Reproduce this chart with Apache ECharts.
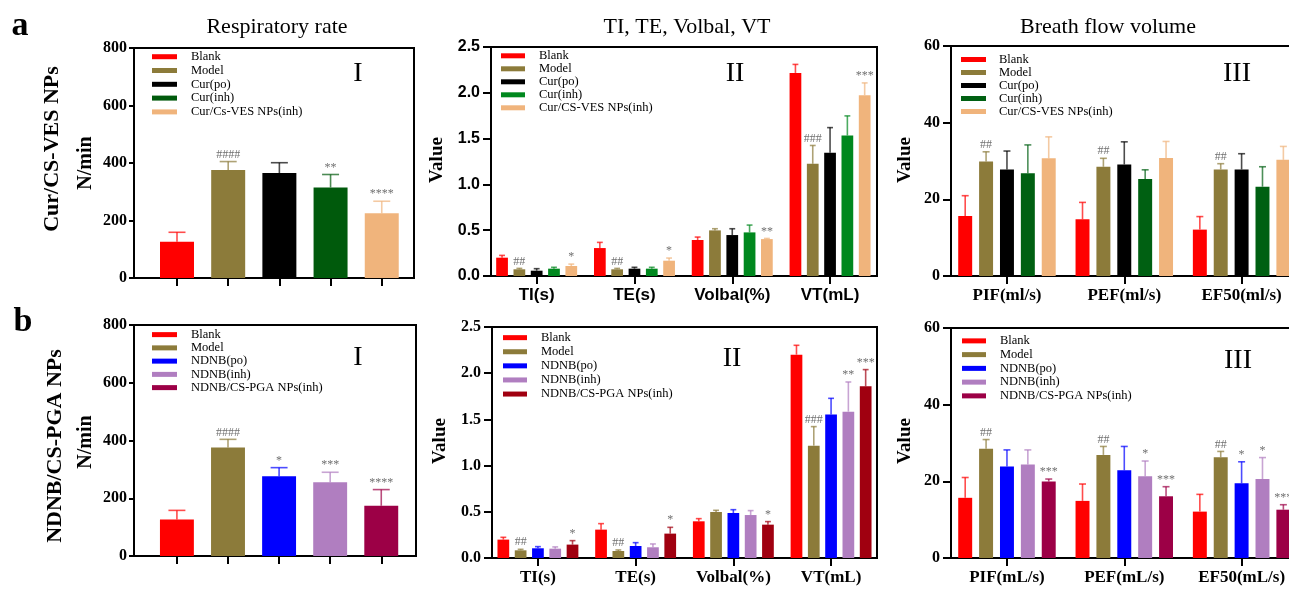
<!DOCTYPE html>
<html><head><meta charset="utf-8">
<script src="https://cdn.jsdelivr.net/npm/echarts@6/dist/echarts.min.js"></script>
<style>html,body{margin:0;padding:0;background:#fff}#c{width:1289px;height:589px}</style>
</head><body><div id="c"></div>
<script>
// ---------- DATA ----------
const groupsA1 = ['Blank','Model','Cur(po)','Cur(inh)','Cur/Cs-VES NPs(inh)'];
const groupsA = ['Blank','Model','Cur(po)','Cur(inh)','Cur/CS-VES NPs(inh)'];
const groupsB = ['Blank','Model','NDNB(po)','NDNB(inh)','NDNB/CS-PGA NPs(inh)'];
const catsII = ['TI(s)','TE(s)','Volbal(%)','VT(mL)'];
const catsA3 = ['PIF(ml/s)','PEF(ml/s)','EF50(ml/s)'];
const catsB3 = ['PIF(mL/s)','PEF(mL/s)','EF50(mL/s)'];
const ticksRate = [0,200,400,600,800];
const ticksII = [0,0.5,1.0,1.5,2.0,2.5];
const ticksIII = [0,20,40,60];

// a-I respiratory rate (N/min)
const rateAMean = [126, 376, 365, 315, 225];
const rateASd   = [33, 29, 36, 45, 42];
const rateASig  = ['', '####', '', '**', '****'];
// b-I respiratory rate
const rateBMean = [126, 376, 276, 255, 174];
const rateBSd   = [32, 28, 30, 35, 56];
const rateBSig  = ['', '####', '*', '***', '****'];

// a-II: rows = groups, cols = TI, TE, Volbal, VT
const a2Mean = [[0.200,0.305,0.393,2.217],[0.073,0.073,0.498,1.225],[0.058,0.080,0.447,1.345],[0.080,0.080,0.476,1.534],[0.109,0.167,0.403,1.974]];
const a2Sd   = [[0.025,0.062,0.032,0.093],[0.010,0.010,0.018,0.200],[0.022,0.015,0.069,0.275],[0.015,0.015,0.080,0.214],[0.021,0.029,0.007,0.134]];
const a2Sig  = [['','','',''],['##','##','','###'],['','','',''],['','','',''],['*','*','**','***']];
// a-III: cols = PIF, PEF, EF50
const a3Mean = [[15.65,14.8,12.1],[29.9,28.5,27.8],[27.8,29.1,27.8],[26.8,25.3,23.3],[30.7,30.8,30.3]];
const a3Sd   = [[5.3,4.4,3.4],[2.5,2.2,1.5],[4.8,5.9,4.1],[7.4,2.4,5.2],[5.6,4.3,3.5]];
const a3Sig  = [['','',''],['##','##','##'],['','',''],['','',''],['','','']];
// b-II
const b2Mean = [[0.199,0.307,0.397,2.201],[0.083,0.076,0.498,1.216],[0.105,0.130,0.487,1.552],[0.101,0.116,0.465,1.584],[0.145,0.264,0.361,1.858]];
const b2Sd   = [[0.025,0.065,0.029,0.101],[0.011,0.011,0.018,0.206],[0.018,0.036,0.036,0.176],[0.019,0.036,0.048,0.321],[0.043,0.068,0.033,0.181]];
const b2Sig  = [['','','',''],['##','##','','###'],['','','',''],['','','','**'],['*','*','*','***']];
// b-III
const b3Mean = [[15.7,14.9,12.1],[28.5,26.9,26.3],[23.9,22.9,19.5],[24.4,21.3,20.6],[19.95,16.1,12.6]];
const b3Sd   = [[5.3,4.4,4.5],[2.4,2.2,1.5],[4.3,6.2,5.6],[3.8,4.0,5.6],[0.65,2.5,1.3]];
const b3Sig  = [['','',''],['##','##','##'],['','','*'],['','*','*'],['***','***','***']];

// ---------- STYLE ----------
const SERIF = '"Liberation Serif","Times New Roman",serif';
const SANS = '"Liberation Sans",Arial,sans-serif';
const colA1 = ['#FF0000','#8C7B3A','#000000','#005A0C','#F0B47C'];
const colA2 = ['#FF0000','#8C7B3A','#000000','#00881E','#F0B47C'];
const colA3 = ['#FF0000','#8C7B3A','#000000','#006012','#F0B47C'];
const colB1 = ['#FF0000','#8C7B3A','#0000FF','#B07EC0','#9C0046'];
const colB2 = ['#FF0000','#8C7B3A','#0000FF','#B07EC0','#A00010'];
const colB3 = ['#FF0000','#8C7B3A','#0000FF','#B07EC0','#9C0046'];

const panels = [
  {kind:'I', grid:{left:134,top:48,width:280,height:230}, xr:[-0.84,4.63], yt:ticksRate, groups:groupsA1, colors:colA1,
   mean:rateAMean, sd:rateASd, sig:rateASig, yFont:SERIF, xFont:SERIF, cats:null, open:false,
   legend:{left:152,top:49.8,lh:13.8,w:25,pad:9}, roman:{t:'I',x:358,y:74}},
  {kind:'II', grid:{left:491,top:47,width:386,height:229}, xr:[-0.467,3.48], yt:ticksII, groups:groupsA, colors:colA2,
   mean:a2Mean, sd:a2Sd, sig:a2Sig, yFont:SANS, xFont:SANS, cats:catsII, open:false,
   legend:{left:501,top:49.3,lh:12.8,w:24,pad:9}, roman:{t:'II',x:735,y:74}},
  {kind:'III', grid:{left:951,top:46,width:338,height:230}, xr:[-0.477,2.404], yt:ticksIII, groups:groupsA, colors:colA3,
   mean:a3Mean, sd:a3Sd, sig:a3Sig, yFont:SERIF, xFont:SERIF, cats:catsA3, open:true,
   legend:{left:961,top:53,lh:12,w:25,pad:8}, roman:{t:'III',x:1237,y:74}},
  {kind:'I', grid:{left:134,top:325,width:282,height:231}, xr:[-0.84,4.68], yt:ticksRate, groups:groupsB, colors:colB1,
   mean:rateBMean, sd:rateBSd, sig:rateBSig, yFont:SERIF, xFont:SERIF, cats:null, open:false,
   legend:{left:152,top:328,lh:13.25,w:25,pad:9}, roman:{t:'I',x:358,y:358}},
  {kind:'II', grid:{left:492,top:327,width:385,height:231}, xr:[-0.47,3.47], yt:ticksII, groups:groupsB, colors:colB2,
   mean:b2Mean, sd:b2Sd, sig:b2Sig, yFont:SERIF, xFont:SERIF, cats:catsII, open:false,
   legend:{left:503,top:330.6,lh:14.1,w:24,pad:9}, roman:{t:'II',x:732,y:359}},
  {kind:'III', grid:{left:951,top:328,width:338,height:230}, xr:[-0.477,2.404], yt:ticksIII, groups:groupsB, colors:colB3,
   mean:b3Mean, sd:b3Sd, sig:b3Sig, yFont:SERIF, xFont:SERIF, cats:catsB3, open:true,
   legend:{left:962,top:334,lh:13.75,w:24,pad:9}, roman:{t:'III',x:1238,y:361}}
];

function makeRender(bw, color, sigArr) {
  return function (params, api) {
    const x = api.value(0), m = api.value(1), s = api.value(2);
    const p0 = api.coord([x, 0]), p1 = api.coord([x, m]), p2 = api.coord([x, m + s]);
    const w = api.size([bw, 0])[0];
    const cap = w * 0.5;
    const ch = [
      {type:'rect', shape:{x:p0[0]-w/2, y:p1[1], width:w, height:p0[1]-p1[1]}, style:{fill:color}},
      {type:'line', shape:{x1:p1[0], y1:p1[1], x2:p2[0], y2:p2[1]}, style:{stroke:color, lineWidth:1.6, opacity:0.7}},
      {type:'line', shape:{x1:p2[0]-cap/2, y1:p2[1], x2:p2[0]+cap/2, y2:p2[1]}, style:{stroke:color, lineWidth:1.6, opacity:0.7}}
    ];
    const t = sigArr[params.dataIndex];
    if (t) ch.push({type:'text', x:p2[0], y:p2[1]-1, style:{text:t, align:'center', verticalAlign:'bottom', fill:'#707070', font:'12px ' + SERIF}});
    return {type:'group', children:ch};
  };
}

const grid = [], xAxis = [], yAxis = [], series = [], legend = [], graphic = [];
panels.forEach((p, pi) => {
  grid.push(Object.assign({show:!p.open, borderColor:'#000', borderWidth:2, backgroundColor:'transparent'}, p.grid));
  const nCat = p.kind === 'I' ? 5 : p.cats.length;
  const tickVals = []; for (let i = 0; i < nCat; i++) tickVals.push(i);
  xAxis.push({type:'value', gridIndex:pi, min:p.xr[0], max:p.xr[1], position:'bottom',
    axisLine:{show:true, onZero:false, lineStyle:{color:'#000', width:2}},
    axisTick:{show:true, length:8, lineStyle:{color:'#000', width:2}, customValues:tickVals},
    axisLabel:{show:p.kind !== 'I', customValues:tickVals, margin:11,
      formatter:(v) => p.cats ? p.cats[Math.round(v)] : '',
      fontFamily:p.xFont, fontWeight:'bold', fontSize:17, color:'#000'},
    splitLine:{show:false}});
  if (p.open) {
    // top frame line for panels whose right edge runs off the picture
    xAxis.push({type:'value', gridIndex:pi, min:p.xr[0], max:p.xr[1], position:'top',
      axisLine:{show:true, onZero:false, lineStyle:{color:'#000', width:2}},
      axisTick:{show:false}, axisLabel:{show:false}, splitLine:{show:false}});
  }
  const yt = p.yt;
  yAxis.push({type:'value', gridIndex:pi, min:yt[0], max:yt[yt.length-1], interval:yt[1]-yt[0],
    axisLine:{show:true, onZero:false, lineStyle:{color:'#000', width:2}},
    axisTick:{show:true, length:p.kind === 'I' ? 5 : 8, lineStyle:{color:'#000', width:2}},
    axisLabel:{margin:p.kind === 'I' ? 7 : 11, fontFamily:p.yFont, fontWeight:'bold', fontSize:16, color:'#000',
      formatter:(v) => p.kind === 'II' ? v.toFixed(1) : String(v)},
    splitLine:{show:false}});
});

let xi = 0;
panels.forEach((p, pi) => {
  const xIndex = xi; xi += p.open ? 2 : 1;
  const bw = p.kind === 'I' ? 0.664 : (p.kind === 'II' ? 0.12 : 0.119);
  const off = p.kind === 'II' ? 0.177 : 0.178;
  p.groups.forEach((g, gi) => {
    let data, sig;
    if (p.kind === 'I') {
      data = [[gi, p.mean[gi], p.sd[gi]]];
      sig = [p.sig[gi]];
    } else {
      data = p.mean[gi].map((m, ci) => [ci + (gi - 2) * off, m, p.sd[gi][ci]]);
      sig = p.sig[gi];
    }
    series.push({type:'custom', name:g, xAxisIndex:xIndex, yAxisIndex:pi, data:data,
      itemStyle:{color:p.colors[gi]}, renderItem:makeRender(bw, p.colors[gi], sig),
      encode:{x:0, y:1}, clip:false, silent:true});
  });
  legend.push({orient:'vertical', left:p.legend.left, top:p.legend.top, padding:0, itemGap:0,
    itemWidth:p.legend.w, itemHeight:5, icon:'rect', selectedMode:false,
    data:p.groups.map((g, gi) => ({name:g, itemStyle:{color:p.colors[gi]}})),
    textStyle:{fontFamily:SERIF, fontSize:12.5, color:'#000', lineHeight:p.legend.lh, padding:[0,0,0,p.legend.pad]}});
  graphic.push({type:'text', x:p.roman.x, y:p.roman.y, style:{text:p.roman.t, align:'center', verticalAlign:'middle', font:'28px ' + SERIF, fill:'#000'}});
});

function vtext(t, x, y, size) {
  return {type:'text', x:x, y:y, rotation:Math.PI/2, style:{text:t, align:'center', verticalAlign:'middle', font:'bold ' + size + 'px ' + SERIF, fill:'#000'}};
}
graphic.push(
  {type:'text', x:277, y:27, style:{text:'Respiratory rate', align:'center', verticalAlign:'middle', font:'22px ' + SERIF, fill:'#000'}},
  {type:'text', x:687, y:27, style:{text:'TI, TE, Volbal, VT', align:'center', verticalAlign:'middle', font:'22px ' + SERIF, fill:'#000'}},
  {type:'text', x:1108, y:27, style:{text:'Breath flow volume', align:'center', verticalAlign:'middle', font:'22px ' + SERIF, fill:'#000'}},
  {type:'text', x:20, y:26, style:{text:'a', align:'center', verticalAlign:'middle', font:'bold 34px ' + SERIF, fill:'#000'}},
  {type:'text', x:23, y:322, style:{text:'b', align:'center', verticalAlign:'middle', font:'bold 34px ' + SERIF, fill:'#000'}},
  vtext('Cur/CS-VES NPs', 52, 149, 22),
  vtext('N/min', 86, 163, 20),
  vtext('Value', 437, 160, 19),
  vtext('Value', 905, 160, 19),
  vtext('NDNB/CS-PGA NPs', 55, 446, 22),
  vtext('N/min', 86, 442, 20),
  vtext('Value', 440, 441, 19),
  vtext('Value', 905, 441, 19)
);

const chart = echarts.init(document.getElementById('c'), null, {renderer:'canvas', width:1289, height:589});
chart.setOption({animation:false, backgroundColor:'#fff', grid, xAxis, yAxis, series, legend, graphic});
</script></body></html>
